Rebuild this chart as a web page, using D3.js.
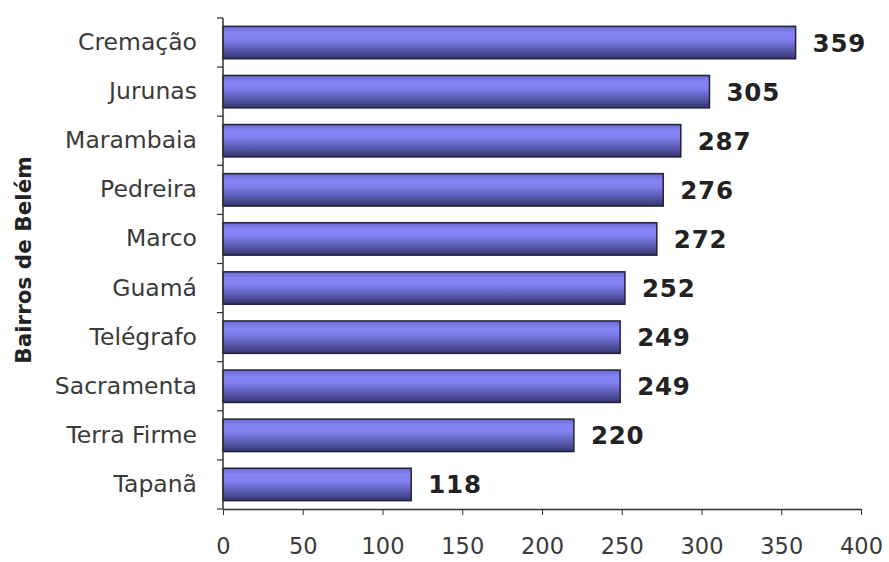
<!DOCTYPE html>
<html><head><meta charset="utf-8">
<script src="https://cdn.jsdelivr.net/npm/d3@7"></script>
<style>body{margin:0;background:#fff}</style>
</head><body>
<svg id="c" width="889" height="562"></svg>
<script>
const categories = ["Cremação","Jurunas","Marambaia","Pedreira","Marco","Guamá","Telégrafo","Sacramenta","Terra Firme","Tapanã"];
const values = [359,305,287,276,272,252,249,249,220,118];
const xTicks = [0,50,100,150,200,250,300,350,400];
const axisTitle = "Bairros de Belém";

(function(){
const svg = d3.select("#c");
const mL = 223, mR = 861, mT = 18, mB = 509;
const x = d3.scaleLinear().domain([0,400]).range([mL,mR]);
const y = d3.scaleBand().domain(categories).range([mT,mB]).paddingInner(0.34).paddingOuter(0.17);

const defs = svg.append("defs");
const g = defs.append("linearGradient").attr("id","bg").attr("x1",0).attr("y1",0).attr("x2",0).attr("y2",1);
[[0,"#6a6ad0"],[0.2,"#8585f5"],[0.4,"#8080f0"],[0.7,"#5c5cb4"],[1,"#34346c"]].forEach(([o,c])=>g.append("stop").attr("offset",o).attr("stop-color",c));

svg.selectAll("rect.bar").data(values).enter().append("rect")
  .attr("class","bar")
  .attr("x",x(0)).attr("y",(d,i)=>y(categories[i]))
  .attr("width",d=>x(d)-x(0)).attr("height",y.bandwidth())
  .attr("fill","url(#bg)").attr("stroke","#22223a").attr("stroke-width",1.5);

svg.selectAll("text.val").data(values).enter().append("text")
  .attr("x",d=>x(d)+17).attr("y",(d,i)=>y(categories[i])+y.bandwidth()/2+9)
  .attr("font-family","DejaVu Sans, Verdana, sans-serif").attr("font-weight","bold")
  .attr("font-size",24.5).attr("letter-spacing",0.8).attr("fill","#222").text(d=>d);

const ya = svg.append("g").attr("transform",`translate(${mL},0)`)
  .call(d3.axisLeft(y).tickSize(0).tickPadding(26).tickFormat(d=>d));
ya.select(".domain").remove();
ya.selectAll("text").attr("font-family","DejaVu Sans, sans-serif").attr("font-size",23.5).attr("fill","#3a3a3a");
svg.append("line").attr("x1",mL).attr("x2",mL).attr("y1",mT).attr("y2",mB).attr("stroke","#333").attr("stroke-width",1.5);
d3.range(categories.length+1).forEach(i=>{
  const yy = mT + i*(mB-mT)/categories.length;
  svg.append("line").attr("x1",mL-6).attr("x2",mL).attr("y1",yy).attr("y2",yy).attr("stroke","#333").attr("stroke-width",1.2);
});

const xa = svg.append("g").attr("transform",`translate(0,${mB})`)
  .call(d3.axisBottom(x).tickValues(xTicks).tickSize(6).tickPadding(23).tickSizeOuter(0));
xa.select(".domain").attr("stroke","#333").attr("stroke-width",1.5);
xa.selectAll(".tick line").attr("stroke","#333");
xa.selectAll("text").attr("font-family","DejaVu Sans, sans-serif").attr("font-size",22.5).attr("fill","#3a3a3a");

svg.append("text").attr("transform","translate(31,260) rotate(-90)")
  .attr("text-anchor","middle").attr("font-family","DejaVu Sans, Verdana, sans-serif")
  .attr("font-weight","bold").attr("font-size",21.5).attr("fill","#222").text(axisTitle);
})();
</script>
</body></html>
